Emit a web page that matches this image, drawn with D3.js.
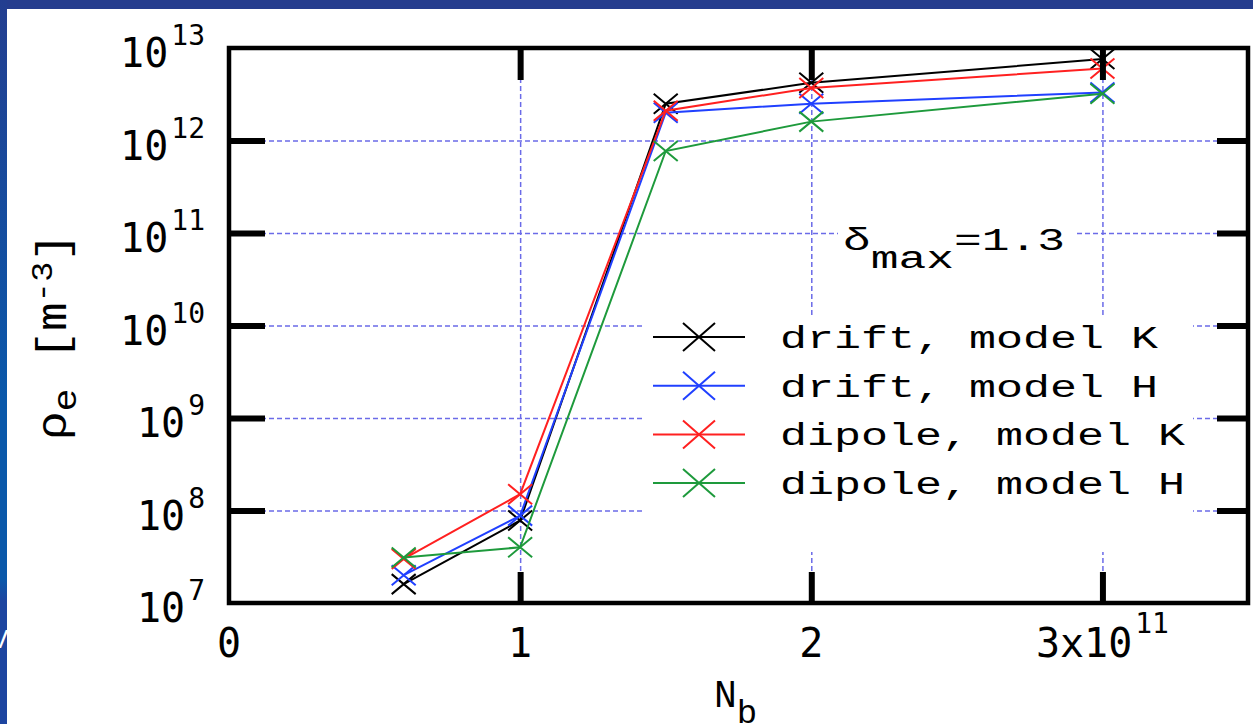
<!DOCTYPE html>
<meta charset="utf-8">
<html>
<head>
  <title>rho_e vs N_b</title>
  <script src="https://d3js.org/d3.v7.min.js"></script>
  <style>
    body { margin: 0; background: #fff; overflow: hidden; }
    .tick-mark line { stroke: #000; stroke-width: 6; }
    .grid line { stroke: #6b6be8; stroke-width: 1.5; stroke-dasharray: 5,3; }
    .tlab { font-family: "DejaVu Sans Mono", monospace; font-size: 40px; fill: #000; }
    .mono { font-family: "Liberation Mono", "Courier New", monospace; fill: #000; }
  </style>
</head>
<body>
<script>
  // values (x in units of 1e11)
  var nb = [0.6, 1.0, 1.5, 2.0, 3.0];
  var driftK  = [1.6e7, 7.8e7, 2.5e12, 4.2e12, 7.6e12];
  var driftH  = [2.0e7, 8.8e7, 2.0e12, 2.5e12, 3.3e12];
  var dipoleK = [3.0e7, 1.5e8, 2.1e12, 3.7e12, 6.0e12];
  var dipoleH = [3.1e7, 4.0e7, 7.7e11, 1.6e12, 3.2e12];
  var seriesNames = ["drift, model K", "drift, model H", "dipole, model K", "dipole, model H"];

  var xTicks = [0, 1, 2, 3];
  var xTickLabels = ["0", "1", "2", "3x10^11"];
  var yTicks = [1e7, 1e8, 1e9, 1e10, 1e11, 1e12, 1e13];
  var yTickLabels = ["10^7", "10^8", "10^9", "10^10", "10^11", "10^12", "10^13"];

  var colors = ["#000000", "#2040ff", "#ff2020", "#1e9a3c"];
  var series = [driftK, driftH, dipoleK, dipoleH];

  var W = 1253, H = 724;
  var pL = 229, pR = 1248, pT = 48, pB = 603;

  var svg = d3.select("body").append("svg")
    .attr("width", W).attr("height", H);

  // slide background
  var defs = svg.append("defs");
  var grad = defs.append("linearGradient").attr("id", "side")
    .attr("x1", 0).attr("y1", 0).attr("x2", 0).attr("y2", 1);
  grad.append("stop").attr("offset", "0").attr("stop-color", "#233e90");
  grad.append("stop").attr("offset", "0.55").attr("stop-color", "#0a58aa");
  grad.append("stop").attr("offset", "0.8").attr("stop-color", "#0a58aa");
  grad.append("stop").attr("offset", "0.83").attr("stop-color", "#1d45a0");
  grad.append("stop").attr("offset", "1").attr("stop-color", "#1d45a0");
  svg.append("rect").attr("width", W).attr("height", H).attr("fill", "#fff");
  svg.append("rect").attr("width", W).attr("height", 9).attr("fill", "#253d8e");
  svg.append("rect").attr("width", 7).attr("height", H).attr("fill", "url(#side)");
  svg.append("text").attr("x", -9).attr("y", 648).attr("fill", "#fff")
    .style("font-family", "Liberation Sans").style("font-size", "26px").text("V");

  var x = d3.scaleLinear().domain([0, 3.5]).range([pL, pR]);
  var y = d3.scaleLog().domain([1e7, 1e13]).range([pB, pT]);

  // grid
  svg.append("g").attr("class", "grid")
    .attr("transform", "translate(" + pL + ",0)")
    .call(d3.axisLeft(y).tickValues(yTicks.slice(1, -1)).tickSize(-(pR - pL)).tickFormat(""))
    .select(".domain").remove();
  svg.append("g").attr("class", "grid")
    .attr("transform", "translate(0," + pB + ")")
    .call(d3.axisBottom(x).tickValues(xTicks.slice(1)).tickSize(-(pB - pT)).tickFormat(""))
    .select(".domain").remove();

  // opaque boxes behind key and label
  svg.append("rect").attr("x", 645).attr("y", 317).attr("width", 548).attr("height", 235).attr("fill", "#fff");
  svg.append("rect").attr("x", 838).attr("y", 218).attr("width", 236).attr("height", 62).attr("fill", "#fff");

  // data
  var line = d3.line().x(function(d) { return x(d[0]); }).y(function(d) { return y(d[1]); });
  function cross(g, cx, cy, c, hw, hh) {
    g.append("path")
      .attr("d", "M" + (cx - hw) + "," + (cy - hh) + "L" + (cx + hw) + "," + (cy + hh) +
                 "M" + (cx - hw) + "," + (cy + hh) + "L" + (cx + hw) + "," + (cy - hh))
      .attr("stroke", c).attr("stroke-width", 2).attr("fill", "none");
  }
  series.forEach(function(s, i) {
    var pts = nb.map(function(v, j) { return [v, s[j]]; });
    var g = svg.append("g");
    g.append("path").datum(pts).attr("d", line)
      .attr("fill", "none").attr("stroke", colors[i]).attr("stroke-width", 2);
    pts.forEach(function(p) { cross(g, x(p[0]), y(p[1]), colors[i], 12, 10); });
  });

  // frame + ticks
  function ticks(axis, tr) {
    var g = svg.append("g").attr("class", "tick-mark").attr("transform", tr).call(axis);
    g.select(".domain").remove();
    g.selectAll("text").remove();
  }
  var yIn = yTicks.slice(1, -1), xIn = xTicks.slice(1);
  ticks(d3.axisLeft(y).tickValues(yIn).tickSize(-36), "translate(" + pL + ",0)");
  ticks(d3.axisRight(y).tickValues(yIn).tickSize(-31), "translate(" + pR + ",0)");
  ticks(d3.axisBottom(x).tickValues(xIn).tickSize(-31), "translate(0," + pB + ")");
  ticks(d3.axisTop(x).tickValues(xIn).tickSize(-32), "translate(0," + pT + ")");
  svg.append("rect").attr("x", pL).attr("y", pT)
    .attr("width", pR - pL).attr("height", pB - pT)
    .attr("fill", "none").attr("stroke", "#000").attr("stroke-width", 4.5);

  // tick labels with superscripts
  function label(t, str, supSize, supDy) {
    var parts = str.split("^");
    t.append("tspan").text(parts[0]);
    if (parts[1]) t.append("tspan").attr("dx", 3).attr("dy", supDy)
      .style("font-size", supSize + "px").text(parts[1]);
  }
  yTicks.forEach(function(v, i) {
    var t = svg.append("text").attr("class", "tlab")
      .attr("x", 205).attr("y", y(v) + 19).attr("text-anchor", "end");
    label(t, yTickLabels[i], 28, -22);
  });
  xTicks.forEach(function(v, i) {
    var t = svg.append("text").attr("class", "tlab")
      .attr("x", x(v)).attr("y", 657).attr("text-anchor", "middle");
    label(t, xTickLabels[i], 28, -24);
  });

  // axis titles
  var yl = svg.append("text").attr("class", "mono")
    .attr("transform", "translate(66,440) rotate(-90)")
    .style("font-size", "42px")
    .attr("textLength", 207).attr("lengthAdjust", "spacingAndGlyphs");
  yl.append("tspan").text("ρ");
  yl.append("tspan").attr("dy", 10).style("font-size", "34px").text("e");
  yl.append("tspan").attr("dy", -10).text(" [m");
  yl.append("tspan").attr("dy", -14).style("font-size", "30px").text("-3");
  yl.append("tspan").attr("dy", 14).text("]");

  var xl = svg.append("text").attr("class", "mono")
    .attr("x", 714).attr("y", 707).style("font-size", "38px");
  xl.append("tspan").text("N");
  xl.append("tspan").attr("dy", 16).style("font-size", "34px").text("b");

  // annotation
  var an = svg.append("text").attr("class", "mono")
    .attr("x", 843).attr("y", 250).style("font-size", "31px")
    .attr("textLength", 222).attr("lengthAdjust", "spacingAndGlyphs");
  an.append("tspan").text("δ");
  an.append("tspan").attr("dy", 18).text("max");
  an.append("tspan").attr("dy", -18).text("=1.3");

  // key
  seriesNames.forEach(function(name, i) {
    var ry = 337 + i * 48.7;
    var g = svg.append("g");
    g.append("line").attr("x1", 653).attr("x2", 745).attr("y1", ry).attr("y2", ry)
      .attr("stroke", colors[i]).attr("stroke-width", 2);
    cross(g, 699, ry, colors[i], 16, 14);
    g.append("text").attr("class", "mono")
      .attr("x", 780).attr("y", ry + 11).style("font-size", "31px")
      .attr("textLength", name.length * 27).attr("lengthAdjust", "spacingAndGlyphs")
      .text(name);
  });
</script>
</body>
</html>
